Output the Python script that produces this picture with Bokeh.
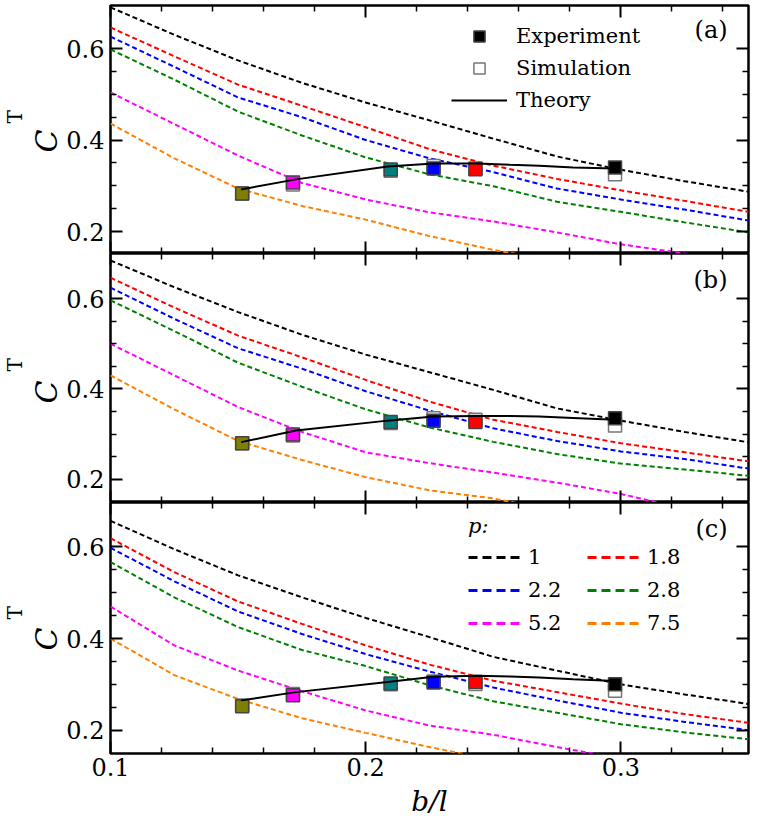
import math
from bokeh.plotting import figure
from bokeh.layouts import column
from bokeh.models import (FixedTicker, LinearAxis, Range1d, Label, Legend, LegendItem,
                          CustomLabelingPolicy, Title)
from bokeh.embed import file_html
from bokeh.resources import INLINE

FONT = "DejaVu Serif"
NAN = float("nan")

# ---------------- data ----------------
x_sim = [0.10, 0.125, 0.15, 0.175, 0.20, 0.225, 0.25, 0.275, 0.30, 0.325, 0.35]
p_labels = ["1", "1.8", "2.2", "2.8", "5.2", "7.5"]
p_colors = ["#000000", "#ff0000", "#0000ff", "#008000", "#ff00ff", "#ff8000"]

# panel (a) simulation curves
a_p1 = [0.690, 0.630, 0.574, 0.525, 0.482, 0.443, 0.403, 0.364, 0.335, 0.310, 0.287]
a_p18 = [0.646, 0.583, 0.521, 0.475, 0.428, 0.380, 0.344, 0.315, 0.290, 0.267, 0.243]
a_p22 = [0.626, 0.560, 0.493, 0.450, 0.400, 0.360, 0.330, 0.294, 0.270, 0.248, 0.224]
a_p28 = [0.598, 0.532, 0.462, 0.410, 0.362, 0.325, 0.299, 0.265, 0.243, 0.220, 0.198]
a_p52 = [0.504, 0.435, 0.366, 0.306, 0.270, 0.242, 0.222, 0.198, 0.172, 0.152, 0.135]
a_p75 = [0.436, 0.360, 0.294, 0.256, 0.226, 0.190, 0.160, 0.135, NAN, NAN, NAN]

# panel (b) simulation curves
b_p1 = [0.684, 0.625, 0.570, 0.520, 0.476, 0.437, 0.398, 0.357, 0.330, 0.305, 0.282]
b_p18 = [0.646, 0.580, 0.518, 0.470, 0.420, 0.372, 0.332, 0.305, 0.280, 0.260, 0.240]
b_p22 = [0.624, 0.555, 0.490, 0.445, 0.395, 0.352, 0.313, 0.285, 0.262, 0.245, 0.224]
b_p28 = [0.596, 0.528, 0.458, 0.405, 0.355, 0.315, 0.283, 0.256, 0.235, 0.222, 0.208]
b_p52 = [0.500, 0.430, 0.360, 0.305, 0.260, 0.236, 0.215, 0.193, 0.168, 0.135, NAN]
b_p75 = [0.430, 0.355, 0.285, 0.243, 0.205, 0.176, 0.158, 0.130, NAN, NAN, NAN]

# panel (c) simulation curves
c_p1 = [0.657, 0.595, 0.538, 0.490, 0.445, 0.403, 0.360, 0.330, 0.300, 0.278, 0.257]
c_p18 = [0.619, 0.545, 0.481, 0.432, 0.385, 0.343, 0.308, 0.283, 0.258, 0.235, 0.216]
c_p22 = [0.598, 0.525, 0.459, 0.410, 0.366, 0.328, 0.293, 0.265, 0.238, 0.218, 0.200]
c_p28 = [0.567, 0.490, 0.425, 0.375, 0.340, 0.298, 0.263, 0.238, 0.213, 0.195, 0.180]
c_p52 = [0.470, 0.385, 0.330, 0.285, 0.243, 0.210, 0.190, 0.163, 0.138, NAN, NAN]
c_p75 = [0.400, 0.320, 0.268, 0.226, 0.194, 0.163, 0.135, NAN, NAN, NAN, NAN]

# experiment / simulation points
pt_x = [0.1516, 0.1715, 0.2098, 0.2266, 0.2430, 0.2977]
pt_colors = ["#808000", "#ff00ff", "#008080", "#0000ff", "#ff0000", "#000000"]
a_exp = [0.283, 0.307, 0.3355, 0.338, 0.336, 0.340]
a_simpt = [0.283, 0.303, 0.333, 0.343, 0.338, 0.325]
b_exp = [0.280, 0.2995, 0.327, 0.330, 0.327, 0.335]
b_simpt = [0.280, 0.297, 0.325, 0.335, 0.332, 0.319]
c_exp = [0.252, 0.276, 0.302, 0.304, 0.305, 0.300]
c_simpt = [0.254, 0.279, 0.300, 0.306, 0.301, 0.286]

# theory curves
th_x = [0.1512, 0.1727, 0.2086, 0.2266, 0.2437, 0.2566, 0.2680, 0.2813, 0.2977]
a_th = [0.292, 0.314, 0.342, 0.3486, 0.3486, 0.346, 0.344, 0.340, 0.338]
b_th = [0.2825, 0.308, 0.330, 0.339, 0.340, 0.340, 0.339, 0.336, 0.332]
c_th = [0.265, 0.283, 0.305, 0.3165, 0.3186, 0.317, 0.315, 0.311, 0.3075]

x_ticks = [0.1, 0.2, 0.3]
x_minor = [0.12, 0.14, 0.16, 0.18, 0.22, 0.24, 0.26, 0.28, 0.32, 0.34]
y_ticks = [0.2, 0.4, 0.6]
y_minor = [0.25, 0.3, 0.35, 0.45, 0.5, 0.55]

FRAME_LEFT = 109
FRAME_W = 639


def style_axis(ax, show_labels):
    ax.axis_line_color = None
    ax.major_tick_in = 12
    ax.major_tick_out = 0
    ax.minor_tick_in = 6
    ax.minor_tick_out = 0
    ax.major_tick_line_color = "black"
    ax.major_tick_line_width = 2
    ax.minor_tick_line_color = "black"
    ax.minor_tick_line_width = 1.5
    ax.major_label_text_font = FONT
    ax.major_label_text_color = "black"
    if show_labels:
        ax.major_label_text_font_size = "24px"
    else:
        ax.major_label_text_font_size = "0px"
        ax.major_label_standoff = 0
        ax.major_label_policy = CustomLabelingPolicy(
            code="for (const i of indices) { indices.unset(i) }\nreturn indices")


def build_panel(tag, ylo, yhi, height, top_border, curves, exp_y, sim_y, theory_y, xlabels,
                c_off, t_off):
    p = figure(width=FRAME_LEFT + FRAME_W + 7, height=height,
               x_range=Range1d(0.1, 0.35), y_range=Range1d(ylo, yhi),
               x_axis_location=None, y_axis_location=None,
               output_backend="svg", toolbar_location=None,
               min_border_left=FRAME_LEFT, min_border_right=7,
               min_border_top=top_border, min_border_bottom=0)
    p.grid.visible = False
    p.outline_line_color = "black"
    p.outline_line_width = 2.5
    p.outline_line_alpha = 1.0
    p.background_fill_color = "white"
    p.border_fill_color = "white"

    xt = FixedTicker(ticks=x_ticks, minor_ticks=x_minor)
    yt = FixedTicker(ticks=y_ticks, minor_ticks=y_minor)

    left = LinearAxis(ticker=yt)
    style_axis(left, True)
    left.major_label_standoff = 6
    right = LinearAxis(ticker=yt)
    style_axis(right, False)
    below = LinearAxis(ticker=xt)
    style_axis(below, xlabels)
    above = LinearAxis(ticker=xt)
    style_axis(above, False)
    if xlabels:
        below.major_label_standoff = 4
        below.axis_label = "b/l"
        below.axis_label_text_font = FONT
        below.axis_label_text_font_style = "italic"
        below.axis_label_text_font_size = "28px"
        below.axis_label_text_color = "black"
        below.axis_label_standoff = 6
    p.add_layout(left, "left")
    p.add_layout(right, "right")
    p.add_layout(below, "below")
    p.add_layout(above, "above")

    # y axis title  C^T  as two stacked side titles
    p.add_layout(Title(text="C", align="left", offset=c_off, standoff=0,
                       text_font=FONT, text_font_style="italic", text_font_size="30px",
                       text_color="black"), "left")
    p.add_layout(Title(text="T", align="left", offset=t_off, standoff=0,
                       text_font=FONT, text_font_style="normal", text_font_size="20px",
                       text_color="black"), "left")

    lines = []
    for ys, col in zip(curves, p_colors):
        lines.append(p.line(x_sim, ys, line_color=col, line_width=2, line_dash="5 3"))

    r_sim = p.scatter(pt_x, sim_y, marker="square", size=13, fill_color="white",
                      line_color="#777777", line_width=1.5)
    r_exp = p.scatter(pt_x, exp_y, marker="square", size=13, fill_color=pt_colors,
                      line_color="#444444", line_width=1.5)
    r_th = p.line(th_x, theory_y, line_color="black", line_width=2)

    # panel tag
    p.add_layout(Label(x=0.3418, y=0.64, text=tag, text_align="right", text_baseline="middle",
                       text_font=FONT, text_font_size="24px", text_color="black"))
    return p, lines, r_sim, r_exp, r_th


pa, la, sa, ea, ta = build_panel("(a)", 0.152, 0.694, 253, 5,
                                 [a_p1, a_p18, a_p22, a_p28, a_p52, a_p75],
                                 a_exp, a_simpt, a_th, False, 101, 130)
pb, lb, sb, eb, tb = build_panel("(b)", 0.149, 0.6995, 249, 0,
                                 [b_p1, b_p18, b_p22, b_p28, b_p52, b_p75],
                                 b_exp, b_simpt, b_th, False, 99, 131)
pc, lc, sc, ec, tc = build_panel("(c)", 0.149, 0.697, 318, 0,
                                 [c_p1, c_p18, c_p22, c_p28, c_p52, c_p75],
                                 c_exp, c_simpt, c_th, True, 103, 134)

# legend in panel (a)
leg_a = Legend(items=[LegendItem(label="Experiment", renderers=[ea], index=5),
                      LegendItem(label="Simulation", renderers=[sa], index=0),
                      LegendItem(label="Theory", renderers=[ta])],
               location=(341, 138), glyph_width=56, glyph_height=28, label_height=30,
               label_standoff=9, spacing=2, padding=0, margin=0,
               label_text_font=FONT, label_text_font_size="21px", label_text_color="black",
               border_line_color=None, background_fill_alpha=0)
pa.add_layout(leg_a)

# legend in panel (c): key lines with the legend's longer dashes (hidden duplicates)
keys = []
for ys, col in zip([c_p1, c_p18, c_p22, c_p28, c_p52, c_p75], p_colors):
    keys.append(pc.line(x_sim, ys, line_color=col, line_width=3, line_dash="9 5",
                        visible=False))
items_c = [LegendItem(label=lab, renderers=[r]) for lab, r in zip(p_labels, keys)]
order = [0, 2, 4, 1, 3, 5]
leg_c = Legend(items=[items_c[i] for i in order], ncols=2,
               location=(358, 115), glyph_width=55, glyph_height=30, label_height=30,
               label_width=56, label_standoff=5, spacing=3, padding=0, margin=0,
               title="p:", title_text_font=FONT, title_text_font_style="italic",
               title_text_font_size="21px", title_text_color="black", title_standoff=4,
               label_text_font=FONT, label_text_font_size="21px", label_text_color="black",
               inactive_fill_alpha=0.0,
               border_line_color=None, background_fill_alpha=0)
pc.add_layout(leg_c)

layout = column(pa, pb, pc, spacing=0)
open("out.html", "w").write(file_html(layout, INLINE))
